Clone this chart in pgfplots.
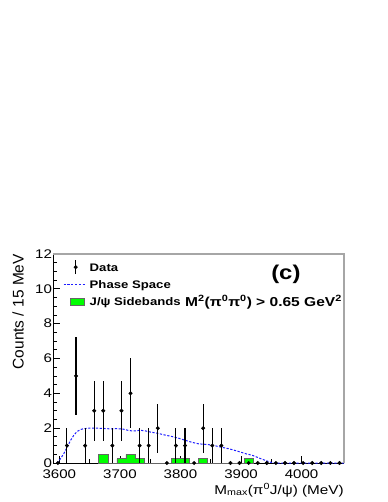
\documentclass[border=0pt]{standalone}
\usepackage{fontspec}
\setmainfont{Liberation Sans}[FakeStretch=1.2]
\newfontfamily\ylabfont{Liberation Sans}
\usepackage{pgfplots}
\pgfplotsset{compat=1.18}
\definecolor{sbgreen}{RGB}{0,255,0}
\definecolor{psblue}{RGB}{30,30,255}

\begin{document}
\begin{tikzpicture}
\useasboundingbox (-53.3bp,-39bp) rectangle (334.7bp,463bp);
\begin{axis}[
  scale only axis, width=290.7bp, height=209bp,
  xmin=3590, xmax=4070, ymin=0, ymax=12,
  axis x line*=bottom, axis y line*=left,
  axis line style={-, black, line width=1bp},
  tick align=inside,
  xtick={3600,3700,...,4000}, minor x tick num=1,
  ytick={0,2,...,12}, minor y tick num=3,
  major tick length=7bp, minor tick length=4bp,
  tick style={black, line width=0.8bp},
  scaled x ticks=false,
  /pgf/number format/assume math mode=true,
  x tick label style={/pgf/number format/1000 sep={}, font=\fontsize{12.6}{13}\selectfont,
    anchor=north, inner sep=0pt, yshift=-6.3bp},
  y tick label style={font=\fontsize{12.6}{13}\selectfont, anchor=east, inner sep=0pt, xshift=-1.2bp},
  clip=false,
  legend style={at={(rel axis cs:0,1)}, anchor=north west, xshift=9.7bp, yshift=-9bp,
    draw=none, fill=none, inner sep=0pt, row sep=9.3bp,
    font=\bfseries\fontsize{11}{11}\selectfont,
    nodes={inner sep=0pt, text height=8bp, text depth=0pt},
    /tikz/every odd column/.append style={column sep=3.5bp}},
  legend cell align=left,
]
\addlegendimage{legend image code/.code={
  \draw[black, line width=1.1bp, overlay] (12bp,-7bp)--(12bp,7bp);
  \fill[black] (12bp,0) circle (1.8bp);
  \path[draw=none, fill=none] (0,-4bp) rectangle (22bp,4bp);}}
\addlegendentry{Data}
\addlegendimage{legend image code/.code={
  \draw[psblue, line width=1bp, dash pattern=on 2.2bp off 1.6bp] (0,0)--(22bp,0);
  \path[draw=none, fill=none] (0,-4bp) rectangle (22bp,4bp);}}
\addlegendentry{Phase Space}
\addlegendimage{legend image code/.code={
  \draw[fill=sbgreen, draw=black!60, line width=0.6bp] (7bp,-3.5bp) rectangle (21bp,3.5bp);
  \path[draw=none, fill=none] (0,-4bp) rectangle (22bp,4bp);}}
\addlegendentry{J/ψ Sidebands}

% J/psi sidebands (15 MeV bins)
\addplot[forget plot, const plot, fill=sbgreen, draw=black!60, line width=0.6bp] coordinates {
  (3665,0.5) (3680,0) (3695,0.25) (3710,0.5) (3725,0.25) (3740,0)
  (3785,0.25) (3815,0) (3830,0.25) (3845,0) (3905,0.25) (3920,0)
} \closedcycle;

% phase space
\addplot[forget plot, psblue, line width=1bp, dash pattern=on 2.2bp off 1.6bp] coordinates {
  (3596,0) (3602,0.25) (3607,0.52) (3612,0.85) (3618,1.27) (3624,1.6) (3629,1.8)
  (3635,1.92) (3640,1.97) (3650,2.0) (3662,2.0) (3675,1.98) (3684,1.96) (3695,1.97)
  (3706,1.94) (3713,1.88) (3720,1.84) (3727,1.85) (3733,1.88) (3741,1.85) (3750,1.78)
  (3763,1.7) (3775,1.6) (3786,1.52) (3799,1.4) (3808,1.3) (3820,1.18) (3830,1.1)
  (3842,1.07) (3852,1.03) (3862,0.95) (3874,0.86) (3882,0.8) (3896,0.66) (3909,0.52)
  (3918,0.45) (3931,0.27) (3940,0.15) (3948,0.05) (3955,0) (4070,0)
};

% data
\addplot[forget plot, only marks, mark=*, mark size=1.8bp, black,
  error bars/.cd, y dir=both, y explicit, error mark=none,
  error bar style={line width=1.1bp, black}]
  table[x=x, y=y, y error=e] {
x      y  e
3597.5 0  0
3612.5 1  1
3627.5 5  2.236
3642.5 1  1
3657.5 3  1.732
3672.5 3  1.732
3687.5 1  1
3702.5 3  1.732
3717.5 4  2
3732.5 1  1
3747.5 1  1
3762.5 2  1.414
3777.5 0  0
3792.5 1  1
3807.5 1  1
3822.5 0  0
3837.5 2  1.414
3852.5 1  1
3867.5 1  1
3882.5 0  0
3897.5 0  0
3912.5 0  0
3927.5 0  0
3942.5 0  0
3957.5 0  0
3972.5 0  0
3987.5 0  0
4002.5 0  0
4017.5 0  0
4032.5 0  0
4047.5 0  0
4062.5 0  0
};

\draw[gray!70, line width=1.2bp] (rel axis cs:0,1) -- (rel axis cs:1,1) -- (rel axis cs:1,0);
\node[font=\bfseries\fontsize{20}{20}\selectfont, inner sep=0pt] at (rel axis cs:0.80,0.904) {(c)};
\node[font=\bfseries\fontsize{13}{13}\selectfont, anchor=base west, inner sep=0pt]
  at (rel axis cs:0.453,0.751) {M\textsuperscript{2}(π\textsuperscript{0}π\textsuperscript{0}) > 0.65 GeV\textsuperscript{2}};
\end{axis}
\node[font=\fontsize{12.8}{13}\selectfont, anchor=base east, inner sep=0pt]
  at (290.7bp,-31bp) {M\textsubscript{max}(π\textsuperscript{0}J/ψ) (MeV)};
\node[font=\ylabfont\fontsize{15.5}{16}\selectfont, rotate=90, anchor=base east, inner sep=0pt]
  at (-29.8bp,209bp) {Counts / 15 MeV};
\end{tikzpicture}
\end{document}
